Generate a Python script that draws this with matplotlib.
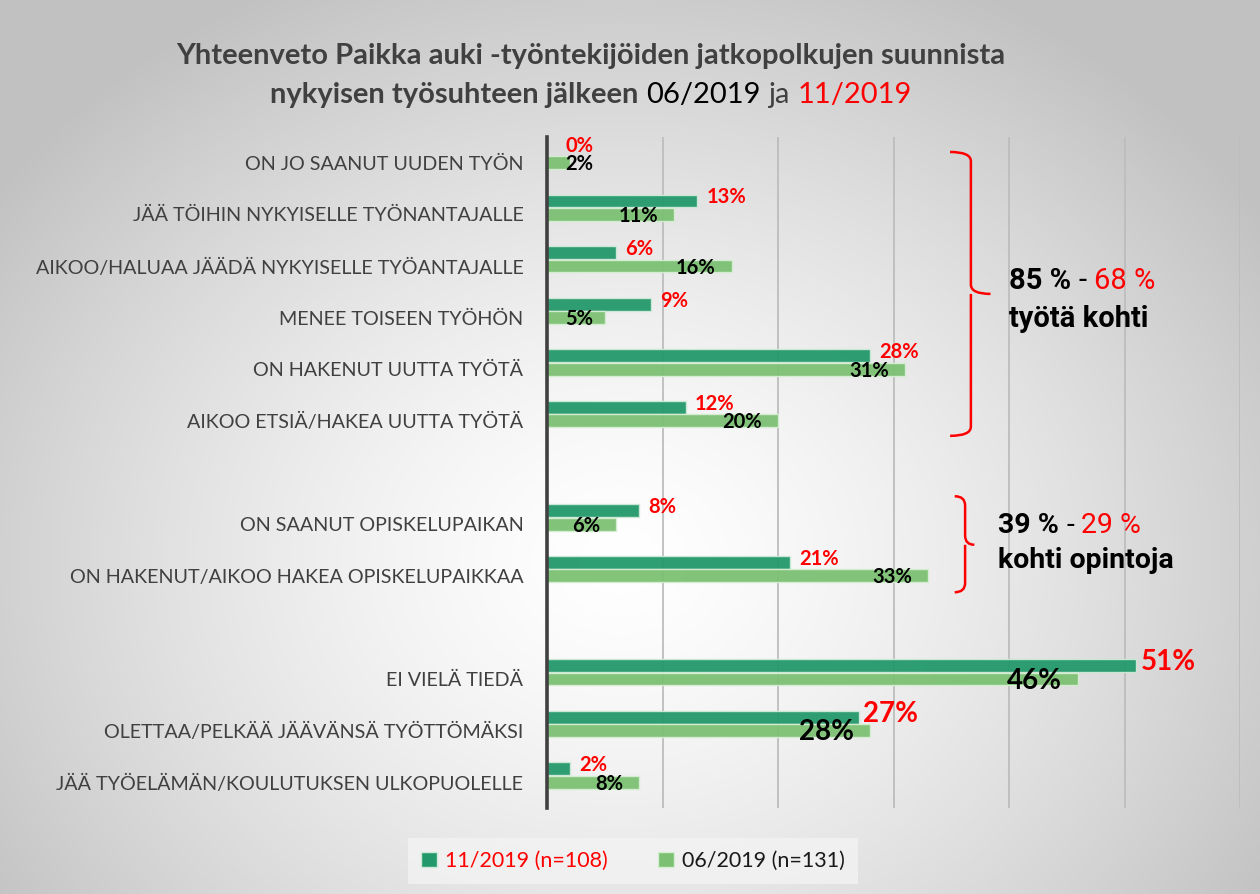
import matplotlib
matplotlib.use("Agg")
import matplotlib.pyplot as plt
import numpy as np
from matplotlib.patches import Patch, PathPatch
from matplotlib.path import Path
from matplotlib.transforms import offset_copy

categories = ["ON JO SAANUT UUDEN TYÖN",
              "JÄÄ TÖIHIN NYKYISELLE TYÖNANTAJALLE",
              "AIKOO/HALUAA JÄÄDÄ NYKYISELLE TYÖANTAJALLE",
              "MENEE TOISEEN TYÖHÖN",
              "ON HAKENUT UUTTA TYÖTÄ",
              "AIKOO ETSIÄ/HAKEA UUTTA TYÖTÄ",
              "",
              "ON SAANUT OPISKELUPAIKAN",
              "ON HAKENUT/AIKOO HAKEA OPISKELUPAIKKAA",
              "",
              "EI VIELÄ TIEDÄ",
              "OLETTAA/PELKÄÄ JÄÄVÄNSÄ TYÖTTÖMÄKSI",
              "JÄÄ TYÖELÄMÄN/KOULUTUKSEN ULKOPUOLELLE"]
nov_2019 = [0, 13, 6, 9, 28, 12, None, 8, 21, None, 51, 27, 2]
jun_2019 = [2, 11, 16, 5, 31, 20, None, 6, 33, None, 46, 28, 8]
series_names = ["11/2019 (n=108)", "06/2019 (n=131)"]
work_total = ["85 %", "68 %", "työtä kohti"]
study_total = ["39 %", "29 %", "kohti opintoja"]

DARK = "#23996b"
LIGHT = "#7cc073"
RED = "#ff0000"
GREY = "#404040"
FONT = ["Lato", "DejaVu Sans"]
FONT2 = ["Roboto", "DejaVu Sans"]
big_rows = {10, 11}

W, H = 1260, 894
fig = plt.figure(figsize=(W / 100, H / 100), dpi=100)

# radial grey background
bg = fig.add_axes([0, 0, 1, 1], zorder=-10)
yy, xx = np.mgrid[0:H, 0:W]
d = np.sqrt(((xx - 620) / 760.0) ** 2 + ((yy - 560) / 640.0) ** 2)
shade = 1.0 - 0.24 * np.clip(d, 0, 1) ** 1.4
bg.imshow(np.dstack([shade] * 3), aspect="auto", extent=[0, 1, 0, 1])
bg.axis("off")

ax = fig.add_axes([547 / W, 1 - 808 / H, (1240 - 547) / W, (808 - 137) / H])
ax.set_facecolor("none")

ypos = np.arange(len(categories))
bh = 0.25
for i, (a, b) in enumerate(zip(nov_2019, jun_2019)):
    if a is None:
        continue
    ax.barh(i - 0.26, a, height=bh, color=DARK, edgecolor="#cfe9d8", lw=1, alpha=0.95, zorder=3)
    ax.barh(i, b, height=bh, color=LIGHT, edgecolor="#d6eed3", lw=1, alpha=0.95, zorder=3)
    big = i in big_rows
    fs = 20 if big else 14.5
    ax.text(max(a + (0.4 if big else 0.8), 1.6), i - 0.33, f"{a}%", color=RED, fontsize=fs,
            fontweight="bold", family=FONT, ha="left", va="center", zorder=5)
    ax.text(max(b - 1.4, 4.0), i + 0.03, f"{b}%", color="black", fontsize=fs, fontweight="bold",
            family=FONT, ha="right", va="center", zorder=5)

ax.set_xlim(0, 60)
ax.set_ylim(12.5, -0.5)
ax.set_xticks(np.arange(10, 61, 10))
ax.set_xticklabels([])
ax.tick_params(axis="x", length=0)
ax.grid(axis="x", color="#bdbdbd", lw=1.3, zorder=0)
ax.set_yticks(ypos)
ax.set_yticklabels(categories, fontsize=14.2, color=GREY, family=FONT)
ax.tick_params(axis="y", length=0, pad=17)
for s in ["top", "right", "bottom"]:
    ax.spines[s].set_visible(False)
ax.spines["left"].set_color(GREY)
ax.spines["left"].set_linewidth(2.6)
ax.spines["left"].set_zorder(6)

renderer = fig.canvas.get_renderer()


def rich_line(x, y, pieces, transform, ha="left", fontsize=12, family=FONT):
    # pieces: (text, colour, weight); joined with one space
    texts = []
    for s, c, w in pieces:
        texts.append(fig.text(x, y, s, color=c, fontweight=w, fontsize=fontsize,
                              family=family, va="baseline", transform=transform))
    probe1 = fig.text(0, 0, "x x", fontsize=fontsize, family=family)
    probe2 = fig.text(0, 0, "xx", fontsize=fontsize, family=family)
    gap = probe1.get_window_extent(renderer).width - probe2.get_window_extent(renderer).width
    probe1.remove()
    probe2.remove()
    widths = [t.get_window_extent(renderer).width for t in texts]
    total = sum(widths) + gap * (len(texts) - 1)
    off = 0 if ha == "left" else -total / 2
    for t, w in zip(texts, widths):
        t.set_transform(offset_copy(transform, fig=fig, x=off, y=0, units="dots"))
        off += w + gap


# title
title1 = "Yhteenveto Paikka auki -työntekijöiden jatkopolkujen suunnista"
rich_line(591 / W, 1 - 64 / H, [(title1, GREY, "bold")], fig.transFigure, ha="center", fontsize=21)
rich_line(591 / W, 1 - 103 / H,
          [("nykyisen työsuhteen jälkeen", GREY, "bold"), ("06/2019", "black", "normal"),
           ("ja", GREY, "normal"), ("11/2019", RED, "normal")],
          fig.transFigure, ha="center", fontsize=21)


def bracket(x0, x1, x2, top, tip, bottom):
    r = 0.18
    verts = [(x0, top), (x1, top), (x1, top + r),
             (x1, tip - r), (x1, tip), (x2, tip),
             (x1, tip), (x1, tip + r),
             (x1, bottom - r), (x1, bottom), (x0, bottom)]
    codes = [Path.MOVETO, Path.CURVE3, Path.CURVE3,
             Path.LINETO, Path.CURVE3, Path.CURVE3,
             Path.MOVETO, Path.CURVE3,
             Path.LINETO, Path.CURVE3, Path.CURVE3]
    ax.add_patch(PathPatch(Path(verts, codes), fill=False, edgecolor=RED, lw=1.8,
                           clip_on=False, zorder=6))


bracket(34.9, 36.7, 38.4, -0.21, 2.54, 5.29)
bracket(35.3, 36.2, 37.0, 6.46, 7.40, 8.32)

rich_line(40.0, 2.45, [(work_total[0], "black", "bold"), ("-", "black", "normal"),
                       (work_total[1], RED, "normal")], ax.transData, fontsize=21, family=FONT2)
rich_line(40.0, 3.18, [(work_total[2], "black", "bold")], ax.transData, fontsize=21, family=FONT2)
rich_line(39.05, 7.17, [(study_total[0], "black", "bold"), ("-", "black", "normal"),
                        (study_total[1], RED, "normal")], ax.transData, fontsize=20.5, family=FONT2)
rich_line(39.05, 7.85, [(study_total[2], "black", "bold")], ax.transData, fontsize=20.5, family=FONT2)

handles = [Patch(facecolor=DARK, edgecolor="#cfe9d8"), Patch(facecolor=LIGHT, edgecolor="#d6eed3")]
leg = fig.legend(handles, series_names, loc="center", bbox_to_anchor=(633 / W, 1 - 861 / H),
                 ncol=2, frameon=True, fancybox=False, prop={"family": FONT, "size": 15.5},
                 handlelength=0.75, handleheight=0.75, handletextpad=0.4, columnspacing=2.3,
                 borderpad=0.6)
leg.get_frame().set_facecolor("#f3f3f3")
leg.get_frame().set_edgecolor("none")
leg.get_texts()[0].set_color(RED)
leg.get_texts()[1].set_color("#1a1a1a")

fig.savefig("out.png", dpi=100)
